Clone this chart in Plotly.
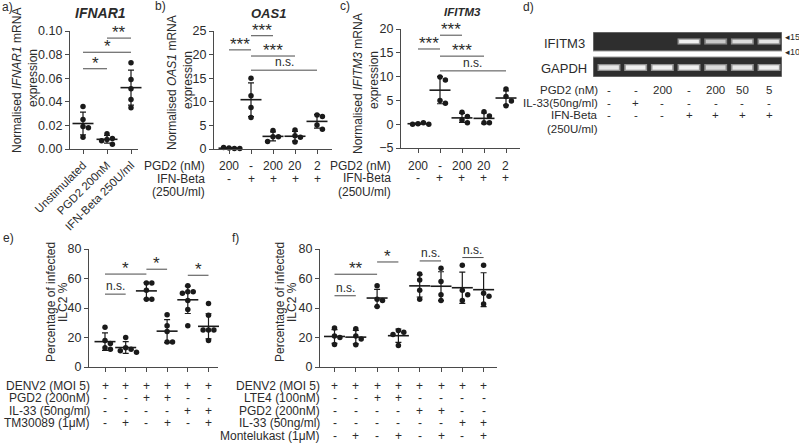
import numpy as np
import plotly.graph_objects as go

W, H = 799, 444
FONT = "Liberation Sans, Arial, sans-serif"
TXT = "#2b2b2b"
INK = "#1a1a1a"
AX = "#4a4a4a"

# ---------------- data ----------------
a_labels = ["Unstimulated", "PGD2 200nM", "IFN-Beta 250U/ml"]
a_groups = [[0.036, 0.025, 0.019, 0.018, 0.010],
            [0.013, 0.009, 0.008, 0.007, 0.004],
            [0.073, 0.059, 0.051, 0.042, 0.035]]
a_sig = [(0, 1, 0.068, "*"), (0, 2, 0.082, "*"), (1, 2, 0.094, "**")]
a_yticks = [0, 0.02, 0.04, 0.06, 0.08, 0.10]

b_groups = [[0.2, 0.1, 0.3, 0.1], [15.0, 11.3, 8.8, 6.7], [3.9, 2.6, 2.6, 1.6],
            [4.0, 2.8, 2.5, 1.5], [7.2, 6.9, 5.1, 4.2]]
b_pgd2 = ["200", "-", "200", "20", "2"]
b_ifnb = ["-", "+", "+", "+", "+"]
b_sig = [(0, 1, 21.0, "***"), (1, 2, 24.0, "***"), (1, 3, 19.7, "***"), (1, 4, 16.7, "n.s.")]
b_yticks = [0, 5, 10, 15, 20, 25]

c_groups = [[0.1, 0.3, 0.0, 0.0], [9.9, 9.3, 5.0, 4.4], [2.5, 1.6, 0.9, 0.3],
            [2.6, 1.7, 0.3, 0.3], [7.4, 5.8, 4.9, 3.9]]
c_pgd2 = ["200", "-", "200", "20", "2"]
c_ifnb = ["-", "+", "+", "+", "+"]
c_sig = [(0, 1, 15.8, "***"), (1, 2, 18.7, "***"), (1, 3, 14.3, "***"), (1, 4, 11.2, "n.s.")]
c_yticks = [-5, 0, 5, 10, 15, 20]

d_pgd2 = ["-", "-", "200", "-", "200", "50", "5"]
d_il33 = ["-", "+", "-", "-", "-", "-", "-"]
d_ifnb = ["-", "-", "-", "+", "+", "+", "+"]
d_ifitm3_band = [0, 0, 0, 1.0, 0.8, 0.9, 0.95]
d_gapdh_band = [0.95, 1.0, 1.0, 1.0, 0.9, 0.95, 1.0]

e_groups = [[27, 18, 16, 13, 12], [20, 13, 12, 11, 10], [57, 57, 52, 46, 46],
            [35.5, 28, 24, 17, 17], [55, 51, 51, 50, 45, 39, 28], [43, 35, 25, 25, 25, 22, 18]]
e_row_labels = ["DENV2 (MOI 5)", "PGD2 (200nM)", "IL-33 (50ng/ml)", "TM30089 (1μM)"]
e_rows = [["+", "+", "+", "+", "+", "+"],
          ["-", "-", "+", "+", "-", "-"],
          ["-", "-", "-", "-", "+", "+"],
          ["-", "+", "-", "+", "-", "+"]]
e_sig = [(0, 1, 49.4, "n.s."), (0, 2, 63.0, "*"), (2, 3, 66.3, "*"), (4, 5, 62.2, "*")]

f_groups = [[26.5, 21, 20, 15.3], [26, 21, 19, 15], [55, 46, 45, 41], [24.7, 23.6, 22, 14.6],
            [63, 59, 52, 46], [67, 58, 49, 45], [69, 52, 49, 45], [69, 50, 48, 42.7]]
f_row_labels = ["DENV2 (MOI 5)", "LTE4 (100nM)", "PGD2 (200nM)", "IL-33 (50ng/ml)", "Montelukast (1μM)"]
f_rows = [["+", "+", "+", "+", "+", "+", "+", "+"],
          ["-", "-", "+", "+", "-", "-", "-", "-"],
          ["-", "-", "-", "-", "+", "+", "-", "-"],
          ["-", "-", "-", "-", "-", "-", "+", "+"],
          ["-", "+", "-", "+", "-", "+", "-", "+"]]
f_sig = [(0, 1, 48.3, "n.s."), (0, 2, 62.9, "**"), (2, 3, 71.2, "*"), (4, 5, 71.9, "n.s."), (6, 7, 74.2, "n.s.")]
ef_yticks = [0, 20, 40, 60, 80]

# ---------------- helpers ----------------
fig = go.Figure()
layout = {}
shapes = []
annots = []


def PX(x):
    return x / W


def PY(y):
    return 1 - y / H


def names(k):
    return ("x" if k == 1 else f"x{k}", "y" if k == 1 else f"y{k}")


def text(x, y, s, size=12, xanchor="center", yanchor="middle", angle=0, xref="paper", color=TXT):
    annots.append(dict(x=x if xref != "paper" else PX(x), y=PY(y), xref=xref, yref="paper", text=s,
                       showarrow=False, xanchor=xanchor, yanchor=yanchor, textangle=angle,
                       font=dict(family=FONT, size=size, color=color)))


def setup(k, dx, dy, c0, step, ncat, yrange, yticks, yfmt=None, ticktext=None, tickangle=0):
    xn, yn = names(k)
    xr = [-(c0 - dx[0]) / step, (dx[1] - c0) / step]
    xa = dict(domain=[PX(dx[0]), PX(dx[1])], range=xr, anchor=yn, showline=True, linecolor=AX,
              linewidth=1.2, ticks="outside", ticklen=4, tickcolor=AX, tickwidth=1.2,
              tickvals=list(range(ncat)), showgrid=False, zeroline=False, fixedrange=True,
              automargin=False)
    if ticktext:
        xa.update(ticktext=ticktext, tickangle=tickangle,
                  tickfont=dict(family=FONT, size=11.5, color=TXT))
    else:
        xa.update(showticklabels=False)
    ya = dict(domain=[PY(dy[1]), PY(dy[0])], range=yrange, anchor=xn, showline=True, linecolor=AX,
              linewidth=1.2, ticks="outside", ticklen=4, tickcolor=AX, tickwidth=1.2,
              tickvals=yticks, showgrid=False, zeroline=False, fixedrange=True, automargin=False,
              tickfont=dict(family=FONT, size=12.5, color=TXT))
    if yfmt:
        ya.update(tickformat=yfmt)
    layout["xaxis" if k == 1 else f"xaxis{k}"] = xa
    layout["yaxis" if k == 1 else f"yaxis{k}"] = ya
    return (yrange[1] - yrange[0]) / (dy[1] - dy[0])


def swarm(vals, upp, d=5.4):
    placed, out = [], []
    for v in vals:
        yp = v / upp
        for kk in [0, 1, -1, 2, -2, 3, -3]:
            ddx = kk * d
            if all((ddx - a) ** 2 + (yp - b) ** 2 >= d * d * 0.95 for a, b in placed):
                break
        placed.append((ddx, yp))
        out.append(ddx)
    return out


def groups_plot(k, groups, step, upp):
    xn, yn = names(k)
    xs, ys, means, sds = [], [], [], []
    for i, g in enumerate(groups):
        offs = swarm(g, upp)
        xs += [i + o / step for o in offs]
        ys += list(g)
        means.append(float(np.mean(g)))
        sds.append(float(np.std(g, ddof=1)))
    fig.add_trace(go.Scatter(x=list(range(len(groups))), y=means, mode="markers", xaxis=xn, yaxis=yn,
                             marker=dict(symbol="line-ew", size=15, line=dict(width=1.6, color=INK)),
                             error_y=dict(type="data", array=sds, width=3, thickness=1.2, color=INK),
                             cliponaxis=False, showlegend=False, hoverinfo="skip"))
    fig.add_trace(go.Scatter(x=xs, y=ys, mode="markers", xaxis=xn, yaxis=yn,
                             marker=dict(size=5.5, color=INK), cliponaxis=False, showlegend=False))


def sig_plot(k, sigs):
    xn, yn = names(k)
    for i, j, y, lab in sigs:
        shapes.append(dict(type="line", xref=xn, yref=yn, x0=i, x1=j, y0=y, y1=y,
                           line=dict(color=AX, width=1)))
        star = "*" in lab
        annots.append(dict(x=(i + j) / 2, y=y, xref=xn, yref=yn, text=lab, showarrow=False,
                           yanchor="bottom", yshift=-6 if star else -1,
                           font=dict(family=FONT, size=17 if star else 12, color=TXT)))


def rows_plot(k, rows, row_labels, ys, label_x, size=12):
    xn, _ = names(k)
    for r, lab in enumerate(row_labels):
        text(label_x, ys[r], lab, size=size, xanchor="right")
        if r < len(rows):
            for i, s in enumerate(rows[r]):
                text(i, ys[r], s, size=size, xref=xn)


# ---------------- panel a ----------------
upp = setup(1, (70, 138), (31, 149), 83, 24, 3, [0, 0.1], a_yticks, yfmt=".2f",
            ticktext=a_labels, tickangle=-45)
groups_plot(1, a_groups, 24, upp)
sig_plot(1, a_sig)
text(100, 13, "<b><i>IFNAR1</i></b>", size=14)
text(17, 81, "Normalised <i>IFNAR1</i> mRNA", size=12, angle=-90)
text(33, 78, "expression", size=12, angle=-90)
text(0, 7, "a)", size=12, xanchor="left")

# ---------------- panel b ----------------
upp = setup(2, (214, 332), (31, 149), 229, 22, 5, [0, 25], b_yticks)
groups_plot(2, b_groups, 22, upp)
sig_plot(2, b_sig)
text(268, 13, "<b><i>OAS1</i></b>", size=13)
text(172, 83, "Normalised <i>OAS1</i> mRNA", size=12, angle=-90)
text(188, 80, "expression", size=12, angle=-90)
text(153, 6, "b)", size=12, xanchor="left")
rows_plot(2, [b_pgd2, b_ifnb], ["PGD2 (nM)", "IFN-Beta", "(250U/ml)"], [166, 179, 192], 207)

# ---------------- panel c ----------------
upp = setup(3, (401, 520), (29, 148), 418, 22, 5, [-5, 20], c_yticks)
groups_plot(3, c_groups, 22, upp)
sig_plot(3, c_sig)
text(462, 12, "<b><i>IFITM3</i></b>", size=11.5)
text(358, 84, "Normalised <i>IFITM3</i> mRNA", size=12, angle=-90)
text(374, 80, "expression", size=12, angle=-90)
text(338, 6, "c)", size=12, xanchor="left")
rows_plot(3, [c_pgd2, c_ifnb], ["PGD2 (nM)", "IFN-Beta", "(250U/ml)"], [166, 178, 192], 393)

# ---------------- panel d (gel) ----------------
gx0, gx1, gc0, gstep = 593, 782, 609, 26.67
layout["xaxis6"] = dict(domain=[PX(gx0), PX(gx1)], range=[-(gc0 - gx0) / gstep, (gx1 - gc0) / gstep],
                        visible=False, anchor="y6", fixedrange=True, automargin=False)
layout["yaxis6"] = dict(domain=[PY(77), PY(32)], range=[0, 45], visible=False, anchor="x6",
                        fixedrange=True, automargin=False)
xr6 = layout["xaxis6"]["range"]
for (yb, yt) in [(26, 45), (0, 20)]:
    shapes.append(dict(type="rect", xref="x6", yref="y6", x0=xr6[0], x1=xr6[1], y0=yb, y1=yt,
                       fillcolor="#2e2e2e", line=dict(color="#9a9a9a", width=1)))


def band(i, yc, hh, inten):
    if inten <= 0:
        return
    g1 = int(46 + (235 - 46) * inten * 0.55)
    g2 = int(46 + (240 - 46) * inten)
    shapes.append(dict(type="rect", xref="x6", yref="y6", x0=i - 0.43, x1=i + 0.43, y0=yc - hh - 1.3,
                       y1=yc + hh + 1.3, fillcolor=f"rgb({g1},{g1},{g1})", line=dict(width=0)))
    shapes.append(dict(type="rect", xref="x6", yref="y6", x0=i - 0.37, x1=i + 0.37, y0=yc - hh,
                       y1=yc + hh, fillcolor=f"rgb({g2},{g2},{g2})", line=dict(width=0)))


for i, v in enumerate(d_ifitm3_band):
    band(i, 35.5, 1.8, v)
for i, v in enumerate(d_gapdh_band):
    band(i, 9.5, 2.2, v)

text(587, 43, "IFITM3", size=13, xanchor="right")
text(589, 68, "GAPDH", size=13, xanchor="right")
text(783, 37, "◂15", size=9, xanchor="left")
text(783, 52, "◂10", size=9, xanchor="left")
text(521, 7, "d)", size=12, xanchor="left")
rows_plot(6, [d_pgd2, d_il33, d_ifnb], ["PGD2 (nM)", "IL-33(50ng/ml)", "IFN-Beta", "(250U/ml)"],
          [89.5, 102.5, 115.5, 128.5], 600, size=11.5)

# ---------------- panel e ----------------
upp = setup(4, (89, 218), (249, 367), 105, 20.7, 6, [0, 80], ef_yticks)
groups_plot(4, e_groups, 20.7, upp)
sig_plot(4, e_sig)
text(51, 302, "Percentage of infected", size=12, angle=-90)
text(63, 302, "ILC2 %", size=12, angle=-90)
text(1, 238, "e)", size=12, xanchor="left")
rows_plot(4, e_rows, e_row_labels, [386, 398.3, 410.6, 422.9], 92)

# ---------------- panel f ----------------
upp = setup(5, (320, 497), (249, 367), 334.5, 21.3, 8, [0, 80], ef_yticks)
groups_plot(5, f_groups, 21.3, upp)
sig_plot(5, f_sig)
text(280, 302, "Percentage of infected", size=12, angle=-90)
text(292, 302, "ILC2 %", size=12, angle=-90)
text(230, 238, "f)", size=12, xanchor="left")
rows_plot(5, f_rows, f_row_labels, [385.5, 398, 410.5, 423, 435.5], 322)

fig.update_layout(width=W, height=H, margin=dict(l=0, r=0, t=0, b=0, pad=0, autoexpand=False),
                  paper_bgcolor="white", plot_bgcolor="white", showlegend=False, shapes=shapes,
                  annotations=annots, font=dict(family=FONT, color=TXT), **layout)
fig.write_html("out.html", config={"displayModeBar": False},
               post_script="document.body.style.margin='0';document.body.style.overflow='hidden';")
